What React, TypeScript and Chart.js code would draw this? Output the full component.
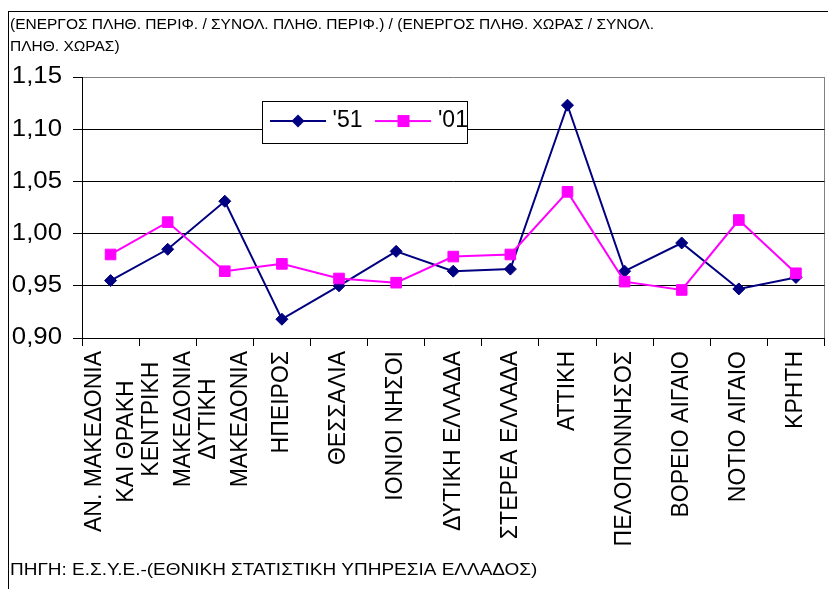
import React, { useEffect, useRef } from 'react';
import { Chart, registerables } from 'chart.js';

Chart.register(...registerables);

// ---------- data ----------
const categories: (string | string[])[] = [
  ['ΑΝ. ΜΑΚΕΔΟΝΙΑ', 'ΚΑΙ ΘΡΑΚΗ'],
  ['ΚΕΝΤΡΙΚΗ', 'ΜΑΚΕΔΟΝΙΑ'],
  ['ΔΥΤΙΚΗ', 'ΜΑΚΕΔΟΝΙΑ'],
  'ΗΠΕΙΡΟΣ',
  'ΘΕΣΣΑΛΙΑ',
  'ΙΟΝΙΟΙ ΝΗΣΟΙ',
  'ΔΥΤΙΚΗ ΕΛΛΑΔΑ',
  'ΣΤΕΡΕΑ ΕΛΛΑΔΑ',
  'ΑΤΤΙΚΗ',
  'ΠΕΛΟΠΟΝΝΗΣΟΣ',
  'ΒΟΡΕΙΟ ΑΙΓΑΙΟ',
  'ΝΟΤΙΟ ΑΙΓΑΙΟ',
  'ΚΡΗΤΗ',
];
const series51 = [0.955, 0.985, 1.031, 0.918, 0.950, 0.983, 0.964, 0.966, 1.123, 0.964, 0.991, 0.947, 0.958];
const series01 = [0.980, 1.011, 0.964, 0.971, 0.957, 0.953, 0.978, 0.980, 1.040, 0.954, 0.946, 1.013, 0.962];
const seriesLabels = ["'51", "'01"];
const yTickValues = [0.9, 0.95, 1.0, 1.05, 1.1, 1.15];
const titleLines = [
  '(ΕΝΕΡΓΟΣ ΠΛΗΘ. ΠΕΡΙΦ. / ΣΥΝΟΛ. ΠΛΗΘ. ΠΕΡΙΦ.) / (ΕΝΕΡΓΟΣ ΠΛΗΘ. ΧΩΡΑΣ / ΣΥΝΟΛ.',
  'ΠΛΗΘ. ΧΩΡΑΣ)',
];
const sourceText = 'ΠΗΓΗ: Ε.Σ.Υ.Ε.-(ΕΘΝΙΚΗ ΣΤΑΤΙΣΤΙΚΗ ΥΠΗΡΕΣΙΑ ΕΛΛΑΔΟΣ)';

// ---------- styles ----------
const NAVY = '#000080';
const MAGENTA = '#FF00FF';
const GRAY = '#808080';
const FONT = "'Liberation Sans', Arial, Helvetica, sans-serif";
const W = 828;
const H = 581;
const TICK_FONT = 23;
const LEG_PAD = 18;
const LEG_BOX_W = 46;
const SUB_STRETCH = 1.15;
const YLABEL_STRETCH = 1.12;

function makeIcon(color: string, style: 'rectRot' | 'rect') {
  const c = document.createElement('canvas');
  c.width = 56;
  c.height = 16;
  const g = c.getContext('2d')!;
  g.strokeStyle = color;
  g.lineWidth = 2;
  g.beginPath();
  g.moveTo(0, 8);
  g.lineTo(56, 8);
  g.stroke();
  g.fillStyle = color;
  if (style === 'rectRot') {
    g.beginPath();
    g.moveTo(28 - 6.5, 8);
    g.lineTo(28, 8 - 6.5);
    g.lineTo(28 + 6.5, 8);
    g.lineTo(28, 8 + 6.5);
    g.closePath();
    g.fill();
  } else {
    g.fillRect(28 - 6, 8 - 6, 12, 12);
  }
  return c;
}

function drawLegendFrame(chart: any) {
  const ca = chart.chartArea;
  const ctx = chart.ctx;
  ctx.save();
  const x = Math.round(ca.left + 180) + 0.5;
  const y = Math.round(ca.top + 24) + 0.5;
  ctx.fillStyle = '#fff';
  ctx.fillRect(x, y, 205, 42);
  ctx.strokeStyle = '#000';
  ctx.lineWidth = 1;
  ctx.strokeRect(x, y, 205, 42);
  ctx.restore();
}

function stretchDraw(obj: any, method: string, chart: any, anchorX: () => number, sx: number) {
  if (!obj || obj['__st_' + method]) return;
  const orig = obj[method].bind(obj);
  obj[method] = (...args: any[]) => {
    const ctx = chart.ctx;
    const ax = anchorX();
    ctx.save();
    ctx.translate(ax, 0);
    ctx.scale(sx, 1);
    ctx.translate(-ax, 0);
    orig(...args);
    ctx.restore();
  };
  obj['__st_' + method] = true;
}

const refPlugin = {
  id: 'refLayout',
  beforeLayout(chart: any) {
    const lg = chart.legend;
    if (lg && !lg.__wrapped) {
      const orig = lg.draw.bind(lg);
      lg.draw = (area: any) => {
        drawLegendFrame(chart);
        orig(area);
      };
      lg.__wrapped = true;
    }
    // subtitle: horizontally stretched text like the reference
    const sub = (chart.boxes || []).find(
      (b: any) => b !== chart.titleBlock && b !== chart.legend && typeof b._drawArgs === 'function'
    );
    stretchDraw(sub, 'draw', chart, () => (sub ? sub.left : 0), SUB_STRETCH);
  },
  afterLayout(chart: any) {
    const lg = chart.legend;
    const ca = chart.chartArea;
    if (!lg) return;
    const x1 = ca.left + 193;
    const cy = ca.top + 44;
    lg.left = x1 - LEG_PAD;
    lg.top = cy - TICK_FONT / 2 - LEG_PAD;
    lg.right = ca.left + 440;
    lg.bottom = ca.top + 70;
    lg.width = lg.right - lg.left;
    lg.height = lg.bottom - lg.top;

    const ys = chart.scales.y;
    stretchDraw(ys, 'drawLabels', chart, () => ys.right - 9 - 11, YLABEL_STRETCH);
  },
  beforeDraw(chart: any) {
    const ctx = chart.ctx;
    ctx.save();
    ctx.fillStyle = '#fff';
    ctx.fillRect(0, 0, chart.width, chart.height);
    ctx.strokeStyle = '#000';
    ctx.lineWidth = 1;
    ctx.beginPath();
    ctx.moveTo(0, 3.5);
    ctx.lineTo(chart.width, 3.5);
    ctx.moveTo(0.5, 3);
    ctx.lineTo(0.5, chart.height);
    ctx.stroke();

    // centre multi-line rotated category labels as a block
    const xs = chart.scales.x;
    const items = xs.getLabelItems();
    if (items && !items.__centered) {
      items.forEach((it: any) => {
        const lines = Array.isArray(it.label) ? it.label : [it.label];
        ctx.font = it.font.string;
        const wMax = Math.max(...lines.map((l: string) => ctx.measureText(l).width));
        const lh = it.font.lineHeight;
        it.options.translation[0] -= ((lines.length - 1) * lh) / 2;
        it.options.translation[1] += wMax / 2;
        it.options.textAlign = 'center';
      });
      items.__centered = true;
    }
    ctx.restore();
  },
};

export default function App() {
  const ref = useRef<HTMLCanvasElement>(null);

  useEffect(() => {
    const icons = [makeIcon(NAVY, 'rectRot'), makeIcon(MAGENTA, 'rect')];
    const chart = new Chart(ref.current!, {
      type: 'line',
      data: {
        labels: categories,
        datasets: [
          {
            label: seriesLabels[0],
            data: series51,
            borderColor: NAVY,
            backgroundColor: NAVY,
            borderWidth: 2,
            pointStyle: 'rectRot',
            pointRadius: 6,
            pointBorderWidth: 1,
            pointBackgroundColor: NAVY,
            pointBorderColor: NAVY,
            tension: 0,
            order: 1,
          },
          {
            label: seriesLabels[1],
            data: series01,
            borderColor: MAGENTA,
            backgroundColor: MAGENTA,
            borderWidth: 2,
            pointStyle: 'rect',
            pointRadius: 7.5,
            pointBorderWidth: 1,
            pointBackgroundColor: MAGENTA,
            pointBorderColor: MAGENTA,
            tension: 0,
            order: 0,
          },
        ],
      },
      options: {
        responsive: false,
        animation: false,
        devicePixelRatio: 1,
        events: [],
        layout: { padding: { left: 2, right: 11.5, top: 0, bottom: 0 } },
        plugins: {
          tooltip: { enabled: false },
          title: {
            display: true,
            text: titleLines,
            align: 'start',
            color: '#000',
            font: { family: FONT, size: 15.5, weight: 'normal', lineHeight: '22px' },
            padding: { top: 6, bottom: 19 },
          },
          subtitle: {
            display: true,
            position: 'bottom',
            text: sourceText,
            align: 'start',
            color: '#000',
            font: { family: FONT, size: 16.5, weight: 'normal', lineHeight: '20px' },
            padding: { top: 0, bottom: 9 },
          },
          legend: {
            display: true,
            position: 'top',
            align: 'start',
            maxHeight: 0.001,
            labels: {
              color: '#000',
              font: { family: FONT, size: TICK_FONT },
              usePointStyle: true,
              pointStyleWidth: LEG_BOX_W,
              padding: LEG_PAD,
              generateLabels: (ch: any) =>
                ch.data.datasets.map((ds: any, i: number) => ({
                  text: ds.label,
                  fillStyle: ds.borderColor,
                  strokeStyle: ds.borderColor,
                  lineWidth: 0,
                  pointStyle: icons[i],
                  hidden: false,
                  datasetIndex: i,
                  fontColor: '#000',
                })),
            },
          },
        },
        scales: {
          x: {
            type: 'category',
            offset: true,
            border: { display: true, color: '#000', width: 1 },
            grid: {
              display: true,
              offset: true,
              drawOnChartArea: true,
              drawTicks: true,
              tickLength: 8,
              tickColor: '#000',
              lineWidth: 1,
              color: (c: any) => (c.tick ? 'rgba(0,0,0,0)' : GRAY),
            },
            ticks: {
              autoSkip: false,
              maxRotation: 90,
              minRotation: 90,
              padding: 5,
              color: '#000',
              font: { family: FONT, size: TICK_FONT, lineHeight: '32px' },
            },
            afterFit: (s: any) => {
              s.height = 222;
              s.paddingLeft = 0;
              s.paddingRight = 0;
            },
          },
          y: {
            type: 'linear',
            min: yTickValues[0],
            max: yTickValues[yTickValues.length - 1],
            border: { display: true, color: '#000', width: 1 },
            grid: {
              display: true,
              drawTicks: true,
              tickLength: 9,
              tickColor: '#000',
              lineWidth: 1,
              color: (c: any) =>
                c.tick && Math.abs(c.tick.value - yTickValues[yTickValues.length - 1]) < 1e-9 ? GRAY : '#000',
            },
            afterBuildTicks: (s: any) => {
              s.ticks = yTickValues.map((v) => ({ value: v }));
            },
            ticks: {
              padding: 11,
              color: '#000',
              font: { family: FONT, size: TICK_FONT },
              callback: (v: any) => Number(v).toFixed(2).replace('.', ','),
            },
            afterFit: (s: any) => {
              s.width = 72;
              s.paddingTop = 0;
              s.paddingBottom = 0;
            },
          },
        },
      },
      plugins: [refPlugin],
    } as any);
    return () => chart.destroy();
  }, []);

  return (
    <div style={{ width: W, height: H }}>
      <canvas ref={ref} width={W} height={H} style={{ display: 'block' }} />
    </div>
  );
}
